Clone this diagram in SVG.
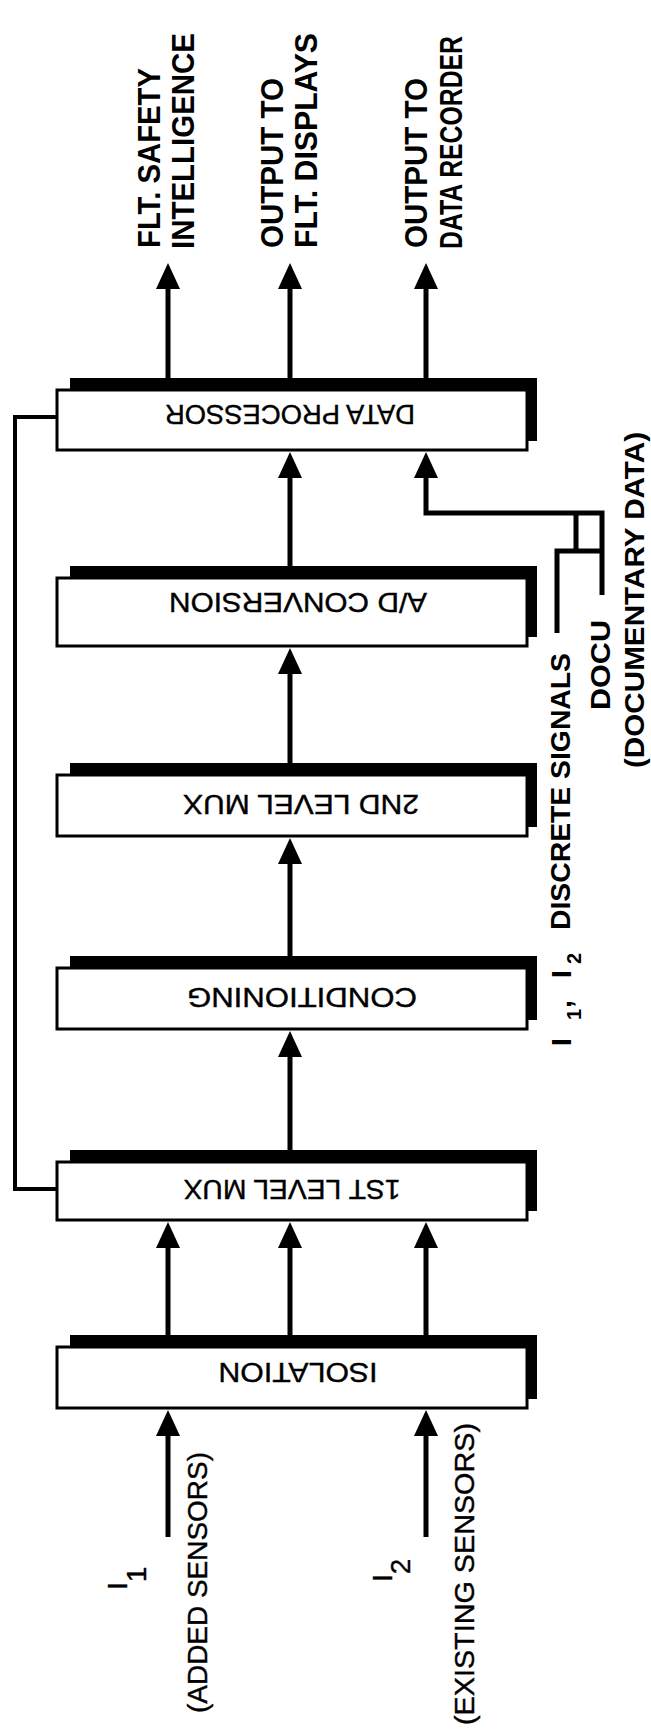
<svg xmlns="http://www.w3.org/2000/svg" width="651" height="1733" viewBox="0 0 651 1733">
<defs>
<marker id="ah" viewBox="0 0 26 24" refX="6" refY="12" markerWidth="26" markerHeight="24" markerUnits="userSpaceOnUse" orient="auto"><path d="M0,0 L26,12 L0,24 Z" fill="#000"/></marker>
</defs>
<style>
.sh{fill:#000}
.bx{fill:#fff;stroke:#000;stroke-width:3}
.bt{font-family:"Liberation Sans",Arial,sans-serif;font-size:28px;fill:#000;stroke:#000;stroke-width:0.4}
.lb{font-family:"Liberation Sans",Arial,sans-serif;font-weight:bold;font-size:31px;fill:#000}
.rl{font-family:"Liberation Sans",Arial,sans-serif;font-weight:bold;font-size:28px;fill:#000}
.il{font-family:"Liberation Sans",Arial,sans-serif;font-size:28px;fill:#000;stroke:#000;stroke-width:0.4}
.ar{fill:none;stroke:#000;stroke-width:5;marker-end:url(#ah)}
.ln{fill:none;stroke:#000;stroke-width:5}
.fb{fill:none;stroke:#000;stroke-width:4}
</style>
<rect width="651" height="1733" fill="#fff"/>

<g id="connectors">
<line class="ar" x1="168" y1="378" x2="168" y2="283"/>
<line class="ar" x1="290" y1="378" x2="290" y2="283"/>
<line class="ar" x1="426" y1="378" x2="426" y2="283"/>
<line class="ar" x1="290" y1="567" x2="290" y2="472"/>
<path class="ar" d="M602,595 V513 H426 V472"/>
<path class="ln" d="M557,633 V551 H602 M576,551 V513"/>
<line class="ar" x1="290" y1="763" x2="290" y2="668"/>
<line class="ar" x1="290" y1="957" x2="290" y2="858"/>
<line class="ar" x1="290" y1="1150" x2="290" y2="1051"/>
<line class="ar" x1="168" y1="1335" x2="168" y2="1242"/>
<line class="ar" x1="290" y1="1335" x2="290" y2="1242"/>
<line class="ar" x1="426" y1="1335" x2="426" y2="1242"/>
<line class="ar" x1="168" y1="1537" x2="168" y2="1430"/>
<line class="ar" x1="426" y1="1537" x2="426" y2="1430"/>
<path class="fb" d="M57,417 H15 V1189 H57"/>
</g>

<g id="data-processor">
<rect class="sh" x="70" y="378" width="467" height="63"/>
<rect class="bx" x="57" y="390" width="470" height="60"/>
<text class="bt" transform="translate(290,405) rotate(180)" text-anchor="middle" textLength="250" lengthAdjust="spacingAndGlyphs">DATA PROCESSOR</text>
</g>

<g id="ad-conversion">
<rect class="sh" x="70" y="566" width="467" height="71"/>
<rect class="bx" x="57" y="578" width="470" height="68"/>
<text class="bt" transform="translate(298,593) rotate(180)" text-anchor="middle" textLength="258" lengthAdjust="spacingAndGlyphs">A/D CONVERSION</text>
</g>

<g id="second-level-mux">
<rect class="sh" x="70" y="763" width="467" height="64"/>
<rect class="bx" x="57" y="775" width="470" height="61"/>
<text class="bt" transform="translate(301,795) rotate(180)" text-anchor="middle" textLength="236" lengthAdjust="spacingAndGlyphs">2ND LEVEL MUX</text>
</g>

<g id="conditioning">
<rect class="sh" x="70" y="956" width="467" height="64"/>
<rect class="bx" x="57" y="968" width="470" height="61"/>
<text class="bt" transform="translate(302,988) rotate(180)" text-anchor="middle" textLength="230" lengthAdjust="spacingAndGlyphs">CONDITIONING</text>
</g>

<g id="first-level-mux">
<rect class="sh" x="70" y="1150" width="467" height="61"/>
<rect class="bx" x="57" y="1162" width="470" height="58"/>
<text class="bt" transform="translate(292,1180) rotate(180)" text-anchor="middle" textLength="217" lengthAdjust="spacingAndGlyphs">1ST LEVEL MUX</text>
</g>

<g id="isolation">
<rect class="sh" x="70" y="1335" width="467" height="64"/>
<rect class="bx" x="57" y="1347" width="470" height="61"/>
<text class="bt" transform="translate(298,1363) rotate(180)" text-anchor="middle" textLength="159" lengthAdjust="spacingAndGlyphs">ISOLATION</text>
</g>

<g id="output-labels">
<text class="lb" transform="translate(160,248) rotate(-90)" textLength="180" lengthAdjust="spacingAndGlyphs">FLT.  SAFETY</text>
<text class="lb" transform="translate(194,249) rotate(-90)" textLength="216" lengthAdjust="spacingAndGlyphs">INTELLIGENCE</text>
<text class="lb" transform="translate(283,248) rotate(-90)" textLength="170" lengthAdjust="spacingAndGlyphs">OUTPUT TO</text>
<text class="lb" transform="translate(317,248) rotate(-90)" textLength="215" lengthAdjust="spacingAndGlyphs">FLT.  DISPLAYS</text>
<text class="lb" transform="translate(427,248) rotate(-90)" textLength="170" lengthAdjust="spacingAndGlyphs">OUTPUT TO</text>
<text class="lb" transform="translate(462,249) rotate(-90) scale(0.8,1)">DATA RECORDER</text>
</g>

<g id="discrete-signals">
<text class="rl" transform="translate(571,1046) rotate(-90)"><tspan x="0">I</tspan><tspan x="26" dy="10" font-size="20">1</tspan><tspan x="38" dy="-10">,</tspan><tspan x="68">I</tspan><tspan x="82" dy="10" font-size="20">2</tspan></text>
<text class="rl" transform="translate(570,930) rotate(-90)" textLength="277" lengthAdjust="spacingAndGlyphs">DISCRETE SIGNALS</text>
</g>

<g id="documentary-data">
<text class="rl" transform="translate(610,710) rotate(-90)" textLength="90" lengthAdjust="spacingAndGlyphs">DOCU</text>
<text class="rl" transform="translate(644,768) rotate(-90)" textLength="336" lengthAdjust="spacingAndGlyphs">(DOCUMENTARY DATA)</text>
</g>

<g id="added-sensors">
<text class="il" transform="translate(127,1590) rotate(-90)">I<tspan dy="19">1</tspan></text>
<text class="il" transform="translate(207,1713) rotate(-90)" textLength="261" lengthAdjust="spacingAndGlyphs">(ADDED  SENSORS)</text>
</g>

<g id="existing-sensors">
<text class="il" transform="translate(392,1582) rotate(-90)">I<tspan dy="18">2</tspan></text>
<text class="il" transform="translate(474,1725) rotate(-90)" textLength="302" lengthAdjust="spacingAndGlyphs">(EXISTING  SENSORS)</text>
</g>
</svg>
